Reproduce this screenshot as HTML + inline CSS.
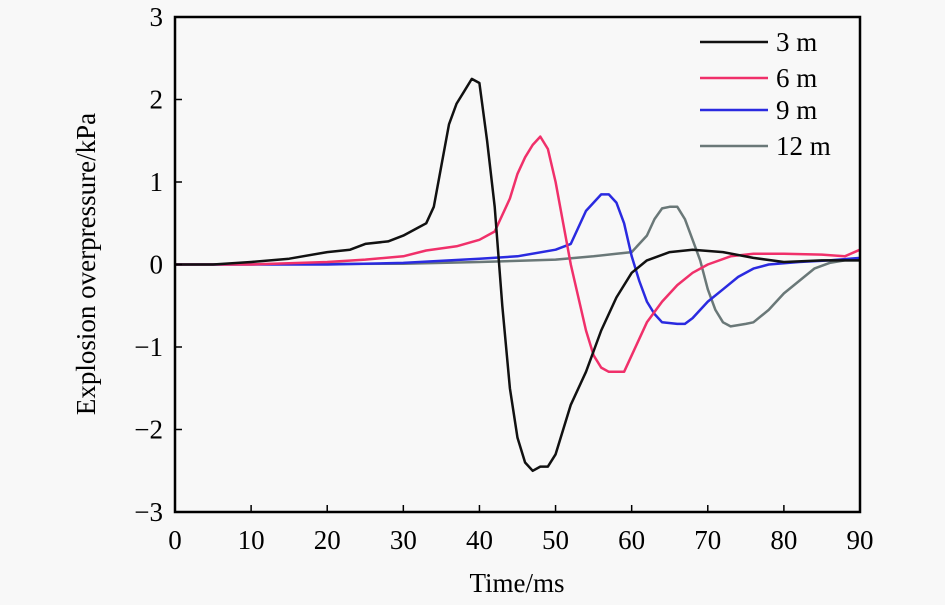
<!DOCTYPE html>
<html><head><meta charset="utf-8"><style>
body{margin:0;background:#f8f8f8;}
svg{display:block;font-family:"Liberation Serif",serif;}
</style></head><body>
<svg id="c" width="945" height="605" viewBox="0 0 945 605">
<rect x="0" y="0" width="945" height="605" fill="#f8f8f8"/>
<g id="series"></g>
<rect x="175" y="17" width="685" height="495" fill="none" stroke="#000" stroke-width="2.5"/>
<g id="axes"></g>
<text x="517" y="592" font-size="27" text-anchor="middle">Time/ms</text>
<text transform="translate(95,264) rotate(-90)" font-size="27" text-anchor="middle">Explosion overpressure/kPa</text>
<g id="legend"></g>
</svg>
<script>
const xTicks=[0,10,20,30,40,50,60,70,80,90];
const yTicks=[3,2,1,0,-1,-2,-3];
const yTickLabels=["3","2","1","0","\u22121","\u22122","\u22123"];
const seriesNames=["3 m","6 m","9 m","12 m"];
const seriesColors=["#111111","#f0306a","#2a2ae0","#6a7878"];
const t3=[0,5,10,15,20,23,25,28,30,32,33,34,35,36,37,38,39,40,41,42,43,44,45,46,47,48,49,50,51,52,54,56,58,60,62,65,68,72,76,80,85,90];
const v3=[0,0,0.03,0.07,0.15,0.18,0.25,0.28,0.35,0.45,0.5,0.7,1.2,1.7,1.95,2.1,2.25,2.2,1.5,0.7,-0.5,-1.5,-2.1,-2.4,-2.5,-2.45,-2.45,-2.3,-2.0,-1.7,-1.3,-0.8,-0.4,-0.1,0.05,0.15,0.18,0.15,0.08,0.03,0.05,0.05];
const t6=[0,10,20,25,30,33,37,40,42,44,45,46,47,48,49,50,51,52,53,54,55,56,57,58,59,60,61,62,64,66,68,70,73,76,80,85,88,90];
const v6=[0,0,0.03,0.06,0.1,0.17,0.22,0.3,0.4,0.8,1.1,1.3,1.45,1.55,1.4,1.0,0.5,0,-0.4,-0.8,-1.1,-1.25,-1.3,-1.3,-1.3,-1.1,-0.9,-0.7,-0.45,-0.25,-0.1,0,0.1,0.13,0.13,0.12,0.1,0.18];
const t9=[0,20,30,40,45,50,52,53,54,55,56,57,58,59,60,61,62,63,64,66,67,68,70,72,74,76,78,82,86,90];
const v9=[0,0,0.02,0.07,0.1,0.18,0.25,0.45,0.65,0.75,0.85,0.85,0.75,0.5,0.1,-0.2,-0.45,-0.6,-0.7,-0.72,-0.72,-0.65,-0.45,-0.3,-0.15,-0.05,0,0.03,0.05,0.08];
const t12=[0,30,40,50,55,58,60,62,63,64,65,66,67,68,69,70,71,72,73,75,76,78,80,82,84,86,88,90];
const v12=[0,0.01,0.03,0.06,0.1,0.13,0.15,0.35,0.55,0.68,0.7,0.7,0.55,0.3,0.05,-0.3,-0.55,-0.7,-0.75,-0.72,-0.7,-0.55,-0.35,-0.2,-0.05,0.02,0.05,0.05];
const seriesT=[t3,t6,t9,t12], seriesV=[v3,v6,v9,v12];
const X=t=>175+t*(685/90);
const Y=v=>264.5-v*82.5;
const NS="http://www.w3.org/2000/svg";
const axes=document.getElementById('axes');
xTicks.forEach((t,i)=>{
  const l=document.createElementNS(NS,'line');
  l.setAttribute('x1',X(t));l.setAttribute('x2',X(t));l.setAttribute('y1',512);l.setAttribute('y2',505);
  l.setAttribute('stroke','#000');l.setAttribute('stroke-width','1.5');
  
  
  axes.appendChild(l);
  const tx=document.createElementNS(NS,'text');
  tx.setAttribute('x',X(t));tx.setAttribute('y',549);tx.setAttribute('font-size','27');tx.setAttribute('text-anchor','middle');
  tx.textContent=t;
  
  
  axes.appendChild(tx);
});
yTicks.forEach((v,i)=>{
  const l=document.createElementNS(NS,'line');
  l.setAttribute('x1',175);l.setAttribute('x2',182);l.setAttribute('y1',Y(v));l.setAttribute('y2',Y(v));
  l.setAttribute('stroke','#000');l.setAttribute('stroke-width','1.5');
  
  
  axes.appendChild(l);
  const tx=document.createElementNS(NS,'text');
  tx.setAttribute('x',163);tx.setAttribute('y',Y(v)+9);tx.setAttribute('font-size','27');tx.setAttribute('text-anchor','end');
  tx.textContent=yTickLabels[i];
  
  
  axes.appendChild(tx);
});
const sg=document.getElementById('series');
const order=[3,2,1,0];
order.forEach(k=>{
  const p=document.createElementNS(NS,'polyline');
  p.setAttribute('points',seriesT[k].map((t,j)=>X(t).toFixed(1)+','+Y(seriesV[k][j]).toFixed(1)).join(' '));
  p.setAttribute('fill','none');p.setAttribute('stroke',seriesColors[k]);p.setAttribute('stroke-width','2.5');p.setAttribute('stroke-linejoin','round');
  
  
  sg.appendChild(p);
});
const lg=document.getElementById('legend');
const ly=[42,78,110,146];
seriesNames.forEach((n,i)=>{
  const l=document.createElementNS(NS,'line');
  l.setAttribute('x1',700);l.setAttribute('x2',768);l.setAttribute('y1',ly[i]);l.setAttribute('y2',ly[i]);
  l.setAttribute('stroke',seriesColors[i]);l.setAttribute('stroke-width','2.5');
  
  
  lg.appendChild(l);
  const tx=document.createElementNS(NS,'text');
  tx.setAttribute('x',776);tx.setAttribute('y',ly[i]+9);tx.setAttribute('font-size','27');
  tx.textContent=n;
  
  
  lg.appendChild(tx);
});
</script>
</body></html>
